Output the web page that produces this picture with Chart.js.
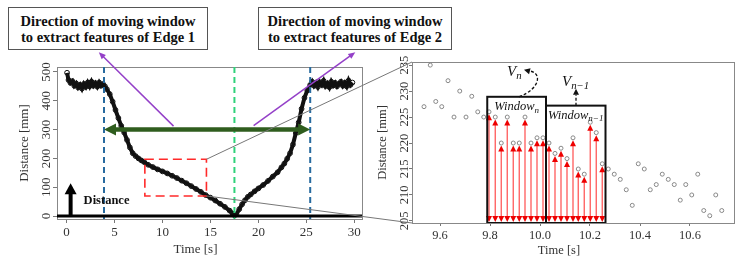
<!DOCTYPE html>
<html>
<head>
<meta charset="utf-8">
<script src="https://cdn.jsdelivr.net/npm/chart.js@4.4.1/dist/chart.umd.min.js"></script>
<style>
    body { margin: 0; width: 743px; height: 263px; position: relative; overflow: hidden; background: #fff; }
    canvas { position: absolute; top: 0; }
    #left { left: 0; }
    #right { left: 372px; }
    #links { left: 0; pointer-events: none; }
    .note {
        position: absolute; top: 7px; height: 43px; box-sizing: border-box;
        border: 1.5px solid #555; background: #fff; padding-top: 5px;
        font: bold 14.5px 'Liberation Serif', serif; line-height: 16px; text-align: center; color: #111;
    }
</style>
</head>
<body>
<canvas id="left" width="372" height="263"></canvas>
<canvas id="right" width="371" height="263"></canvas>
<canvas id="links" width="743" height="263"></canvas>
<div class="note" style="left:8px;width:200px">Direction of moving window<br>to extract features of Edge 1</div>
<div class="note" style="left:258px;width:194px">Direction of moving window<br>to extract features of Edge 2</div>
<script>
const SERIF = "'Liberation Serif', 'Times New Roman', serif";

// left panel: full scan
const scanTime = [0.05, 0.2, 0.4, 0.6, 0.8, 1.0, 1.2, 1.4, 1.6, 1.8, 2.0, 2.2, 2.4, 2.6, 2.8, 3.0, 3.2, 3.4, 3.6, 3.8,
    4.0, 4.2, 4.5, 4.8, 5.1, 5.4, 5.7, 6.0, 6.3, 6.6, 6.9, 7.2, 7.5, 7.8, 8.1, 8.5, 9.0, 9.5, 10.0, 10.5,
    11.0, 11.5, 12.0, 12.5, 13.0, 13.5, 14.0, 14.5, 15.0, 15.5, 16.0, 16.5, 17.0, 17.3, 17.5,
    17.7, 18.0, 18.3, 18.6, 18.9, 19.2, 19.6, 20.0, 20.5, 21.0, 21.5, 22.0, 22.4, 22.7, 23.0, 23.3, 23.6, 23.9,
    24.2, 24.5, 24.8, 25.1, 25.4,
    25.6, 25.8, 26.0, 26.2, 26.4, 26.6, 26.8, 27.0, 27.2, 27.4, 27.6, 27.8, 28.0, 28.2, 28.4, 28.6, 28.8, 29.0,
    29.2, 29.4, 29.6, 29.8];
const scanDist = [497, 472, 462, 468, 452, 460, 446, 455, 442, 458, 448, 463, 450, 466, 452, 461, 449, 463, 452, 458,
    450, 440, 423, 397, 368, 340, 313, 290, 264, 238, 218, 208, 200, 193, 187, 178, 170, 162, 155, 148,
    140, 132, 123, 114, 104, 94, 84, 73, 64, 54, 43, 32, 19, 9, 3,
    6, 24, 41, 55, 67, 75, 86, 96, 108, 122, 137, 152, 169, 182, 199, 218, 248, 288,
    325, 372, 410, 436, 455,
    466, 452, 462, 448, 464, 455, 469, 451, 460, 447, 466, 453, 462, 450, 459, 466, 452, 462,
    450, 470, 455, 463];
const scanTimeTicks = [0, 5, 10, 15, 20, 25, 30];
const scanDistTicks = [0, 100, 200, 300, 400, 500];

const edgeTimes = [3.9, 25.4];
const bottomTime = 17.5;
const sweepLevel = 300;
const zoomBoxTime = [8.16, 14.58];
const zoomBoxDist = [70, 197];
const pointerFrom = [[11.15, 312], [19.5, 314]];
const pointerTo = [[3.36, 568], [30.1, 568]];
const distArrow = [0.42, 114];

// right panel: zoomed samples
const zoomTime = [9.536, 9.561, 9.583, 9.607, 9.632, 9.656, 9.679, 9.704, 9.727, 9.751, 9.775,
    9.796, 9.821, 9.845, 9.869, 9.893, 9.917, 9.94, 9.964, 9.988, 10.012,
    10.036, 10.06, 10.084, 10.108, 10.132, 10.153, 10.177, 10.201, 10.225, 10.249,
    10.273, 10.297, 10.321, 10.345, 10.369, 10.393, 10.417, 10.441, 10.465, 10.489, 10.513, 10.537,
    10.561, 10.583, 10.607, 10.631, 10.655, 10.679, 10.703, 10.727];
const zoomDist = [227, 235, 228, 227, 232, 225, 230, 225, 229, 226, 225,
    226, 225, 220, 225, 220, 220, 225, 220, 221, 221,
    220, 218, 219, 217, 221, 215, 214, 224, 222, 216,
    215, 214, 213, 211, 208, 216, 215, 211, 212, 214, 213, 212,
    209, 212, 210, 214, 207, 206, 210, 207];
const zoomTimeTicks = [9.6, 9.8, 10.0, 10.2, 10.4, 10.6];
const zoomDistTicks = [205, 210, 215, 220, 225, 230, 235];
const windowEdges = [9.789, 10.024, 10.262];
const windowTops = [228.9, 227.2];
const velocityAnchors = [9.916, 10.144];

function arrowHead(ctx, x, y, angle, len, half, color) {
    ctx.save();
    ctx.translate(x, y);
    ctx.rotate(angle);
    ctx.beginPath();
    ctx.moveTo(0, 0);
    ctx.lineTo(-len, -half);
    ctx.lineTo(-len, half);
    ctx.closePath();
    ctx.fillStyle = color;
    ctx.fill();
    ctx.restore();
}

function segment(ctx, x0, y0, x1, y1, color, width) {
    ctx.beginPath();
    ctx.moveTo(x0, y0);
    ctx.lineTo(x1, y1);
    ctx.strokeStyle = color;
    ctx.lineWidth = width;
    ctx.stroke();
}

// italic label with a subscript, x is the left edge
function mathLabel(ctx, base, sub, x, y, size) {
    ctx.textAlign = "left";
    ctx.textBaseline = "alphabetic";
    ctx.fillStyle = "#111";
    ctx.font = `italic ${size}px ${SERIF}`;
    ctx.fillText(base, x, y);
    const w = ctx.measureText(base).width;
    ctx.font = `italic ${size * 0.72}px ${SERIF}`;
    ctx.fillText(sub, x + w, y + size * 0.22);
}

function mathWidth(ctx, base, sub, size) {
    ctx.font = `italic ${size}px ${SERIF}`;
    const w = ctx.measureText(base).width;
    ctx.font = `italic ${size * 0.72}px ${SERIF}`;
    return w + ctx.measureText(sub).width;
}

const frame = {
    id: "frame",
    afterDraw(chart) {
        const { ctx, chartArea: a } = chart;
        ctx.save();
        ctx.strokeStyle = "#888";
        ctx.lineWidth = 1;
        ctx.strokeRect(a.left + 0.5, a.top + 0.5, a.width, a.height);
        ctx.restore();
    }
};

const leftMarks = {
    id: "leftMarks",
    afterDraw(chart) {
        const { ctx, chartArea: a, scales: { x, y } } = chart;
        ctx.save();

        ctx.setLineDash([6, 4]);
        edgeTimes.forEach(t => segment(ctx, x.getPixelForValue(t), a.top, x.getPixelForValue(t), a.bottom, "#276a9f", 2));
        segment(ctx, x.getPixelForValue(bottomTime), a.top, x.getPixelForValue(bottomTime), a.bottom, "#2fd27a", 2);

        ctx.setLineDash([9, 5]);
        ctx.strokeStyle = "#ff2a2a";
        ctx.lineWidth = 1.6;
        const bx0 = x.getPixelForValue(zoomBoxTime[0]), bx1 = x.getPixelForValue(zoomBoxTime[1]);
        const by0 = y.getPixelForValue(zoomBoxDist[1]), by1 = y.getPixelForValue(zoomBoxDist[0]);
        ctx.strokeRect(bx0, by0, bx1 - bx0, by1 - by0);
        ctx.setLineDash([]);

        const y0 = y.getPixelForValue(0);
        segment(ctx, a.left, y0, a.right, y0, "#000", 3);

        // direction pointers
        pointerFrom.forEach((p, i) => {
            const fx = x.getPixelForValue(p[0]), fy = y.getPixelForValue(p[1]);
            const tx = x.getPixelForValue(pointerTo[i][0]), ty = y.getPixelForValue(pointerTo[i][1]);
            const ang = Math.atan2(ty - fy, tx - fx);
            segment(ctx, fx, fy, tx - Math.cos(ang) * 5, ty - Math.sin(ang) * 5, "#9440c8", 1.5);
            arrowHead(ctx, tx, ty, ang, 7, 3, "#9440c8");
        });

        // sweep double arrow
        const gy = y.getPixelForValue(sweepLevel);
        const gx0 = x.getPixelForValue(edgeTimes[0]), gx1 = x.getPixelForValue(edgeTimes[1]);
        segment(ctx, gx0 + 10, gy, gx1 - 10, gy, "#2f5d1e", 4.5);
        arrowHead(ctx, gx0, gy, Math.PI, 12, 6, "#2f5d1e");
        arrowHead(ctx, gx1, gy, 0, 12, 6, "#2f5d1e");

        // distance arrow
        const dx = x.getPixelForValue(distArrow[0]), dTop = y.getPixelForValue(distArrow[1]);
        segment(ctx, dx, y0, dx, dTop + 9, "#000", 4);
        arrowHead(ctx, dx, dTop, -Math.PI / 2, 11, 6, "#000");
        ctx.fillStyle = "#111";
        ctx.font = `bold 12.5px ${SERIF}`;
        ctx.textAlign = "left";
        ctx.textBaseline = "middle";
        ctx.fillText("Distance", dx + 13, y.getPixelForValue(52));

        ctx.font = `13px ${SERIF}`;
        ctx.fillStyle = "#333";
        ctx.textAlign = "center";
        ctx.fillText("Time [s]", (a.left + a.right) / 2 - 14, 250);
        ctx.restore();
    }
};

const windowMarks = {
    id: "windowMarks",
    beforeDatasetsDraw(chart) {
        const { ctx, chartArea: a, scales: { x, y } } = chart;
        ctx.save();
        zoomTime.forEach((t, i) => {
            if (t < windowEdges[0] || t > windowEdges[2]) return;
            const px = x.getPixelForValue(t), py = y.getPixelForValue(zoomDist[i]) + 2.5;
            segment(ctx, px, a.bottom - 5, px, py + 5, "#ff5a5a", 1.3);
            arrowHead(ctx, px, py, -Math.PI / 2, 6, 3, "#ee0000");
            arrowHead(ctx, px, a.bottom - 1, Math.PI / 2, 6, 3, "#ee0000");
        });
        ctx.restore();
    },
    afterDatasetsDraw(chart) {
        const { ctx, chartArea: a, scales: { x, y } } = chart;
        ctx.save();
        const subs = ["n", "n\u22121"];
        windowTops.forEach((top, i) => {
            const x0 = x.getPixelForValue(windowEdges[i]), x1 = x.getPixelForValue(windowEdges[i + 1]);
            const y0 = y.getPixelForValue(top);
            ctx.strokeStyle = "#111";
            ctx.lineWidth = 2;
            ctx.strokeRect(x0, y0, x1 - x0, a.bottom - y0);
            const w = mathWidth(ctx, "Window", subs[i], 12.5);
            mathLabel(ctx, "Window", subs[i], (x0 + x1) / 2 - w / 2, y0 + 13, 12.5);
        });

        ctx.setLineDash([3, 2]);
        ctx.strokeStyle = "#111";
        ctx.lineWidth = 1.3;
        // V_n curved pointer
        const sx = x.getPixelForValue(velocityAnchors[0]), sy = y.getPixelForValue(windowTops[0]);
        ctx.beginPath();
        ctx.moveTo(sx, sy);
        ctx.bezierCurveTo(sx + 22, sy - 8, sx + 24, sy - 26, sx + 8, sy - 26);
        ctx.stroke();
        arrowHead(ctx, sx + 5, sy - 27, Math.PI + 0.25, 6, 3, "#111");
        mathLabel(ctx, "V", "n", sx - 12, sy - 21, 15);
        // V_{n-1} straight pointer
        const vx = x.getPixelForValue(velocityAnchors[1]), vy = y.getPixelForValue(windowTops[1]);
        ctx.beginPath();
        ctx.moveTo(vx, vy);
        ctx.lineTo(vx, vy - 11);
        ctx.stroke();
        ctx.setLineDash([]);
        arrowHead(ctx, vx, vy - 17, -Math.PI / 2, 6, 3, "#111");
        mathLabel(ctx, "V", "n\u22121", vx - 14, vy - 20, 15);

        ctx.font = `12.5px ${SERIF}`;
        ctx.fillStyle = "#333";
        ctx.textAlign = "center";
        ctx.textBaseline = "middle";
        ctx.fillText("Time [s]", (a.left + a.right) / 2 - 14, 251);
        ctx.restore();
    }
};

function axisX(min, max, ticks, height, size, tickLen, pad, fmt) {
    return {
        type: "linear", min, max,
        afterBuildTicks: s => { s.ticks = ticks.map(v => ({ value: v })); },
        afterFit: s => { s.height = height; },
        border: { display: false },
        grid: { drawOnChartArea: false, drawTicks: true, tickLength: tickLen, color: "#777" },
        ticks: { padding: pad, color: "#333", font: { family: SERIF, size }, maxRotation: 0, callback: fmt }
    };
}

function axisY(min, max, ticks, width, size, tickLen, pad, titleSize, titlePad) {
    return {
        type: "linear", min, max,
        afterBuildTicks: s => { s.ticks = ticks.map(v => ({ value: v })); },
        afterCalculateLabelRotation: s => { s.labelRotation = 90; },
        afterFit: s => { s.width = width; },
        border: { display: false },
        grid: { drawOnChartArea: false, drawTicks: true, tickLength: tickLen, color: "#777" },
        ticks: { padding: pad, color: "#333", font: { family: SERIF, size }, minRotation: 90, maxRotation: 90, crossAlign: "center" },
        title: { display: true, text: "Distance [mm]", color: "#333", font: { family: SERIF, size: titleSize }, padding: { top: titlePad, bottom: 0 } }
    };
}

const leftChart = new Chart(document.getElementById("left"), {
    type: "scatter",
    data: {
        datasets: [{
            data: scanTime.map((t, i) => ({ x: t, y: scanDist[i] })),
            showLine: true,
            borderColor: "#111",
            borderWidth: 4,
            pointRadius: 2.4,
            pointBorderWidth: 1,
            pointBorderColor: "#111",
            pointBackgroundColor: "rgba(0,0,0,0)"
        }]
    },
    options: {
        responsive: false,
        animation: false,
        layout: { padding: { top: 67, right: 10, left: 0, bottom: 0 } },
        plugins: { legend: { display: false }, tooltip: { enabled: false } },
        scales: {
            x: axisX(-1, 30.8, scanTimeTicks, 44, 13, 4, 1.5),
            y: axisY(-10, 517, scanDistTicks, 57, 13, 4, -3.5, 13, 17)
        }
    },
    plugins: [frame, leftMarks]
});

const rightChart = new Chart(document.getElementById("right"), {
    type: "scatter",
    data: {
        datasets: [{
            data: zoomTime.map((t, i) => ({ x: t, y: zoomDist[i] })),
            pointRadius: 2,
            pointBorderWidth: 1,
            pointBorderColor: "#888",
            pointBackgroundColor: "rgba(0,0,0,0)"
        }]
    },
    options: {
        responsive: false,
        animation: false,
        layout: { padding: { top: 62, right: 9, left: 0, bottom: 0 } },
        plugins: { legend: { display: false }, tooltip: { enabled: false } },
        scales: {
            x: axisX(9.488, 10.776, zoomTimeTicks, 40, 12.5, 3, 2, v => v.toFixed(1)),
            y: axisY(204.6, 235.6, zoomDistTicks, 40, 12.5, 3, -5, 12.5, 3.5)
        }
    },
    plugins: [frame, windowMarks]
});

// thin guides from the red box to the zoomed panel
const links = document.getElementById("links").getContext("2d");
const lx = leftChart.scales.x, ly = leftChart.scales.y, ra = rightChart.chartArea;
const boxRight = lx.getPixelForValue(zoomBoxTime[1]);
segment(links, boxRight, ly.getPixelForValue(zoomBoxDist[1]), 372 + ra.left, ra.top, "#777", 1);
segment(links, boxRight, ly.getPixelForValue(zoomBoxDist[0]), 372 + ra.left, ra.bottom, "#777", 1);
</script>
</body>
</html>
